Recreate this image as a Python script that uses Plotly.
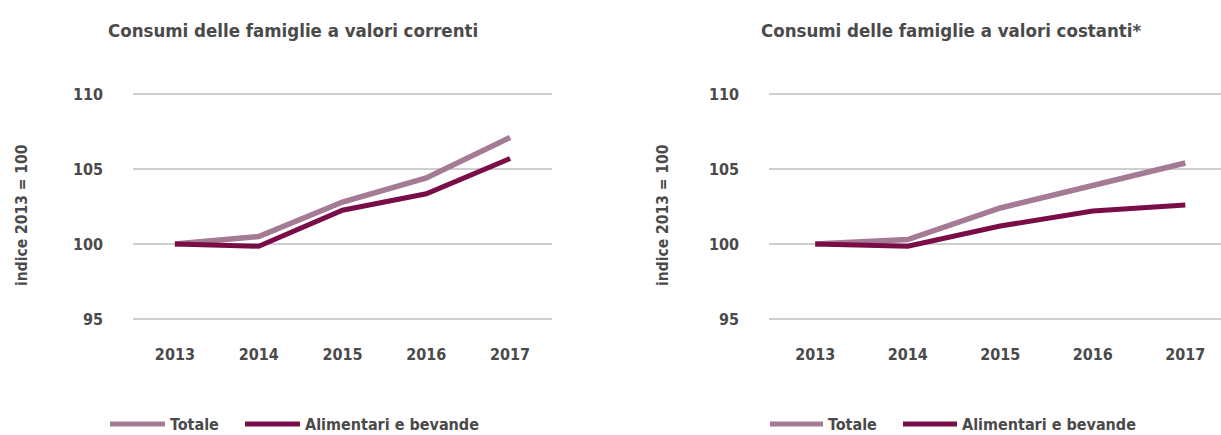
import plotly.graph_objects as go
from plotly.subplots import make_subplots

# Household consumption index, 2013 = 100
years = ["2013", "2014", "2015", "2016", "2017"]

correnti_totale = [100.0, 100.5, 102.8, 104.4, 107.1]
correnti_alimentari = [100.0, 99.85, 102.25, 103.35, 105.7]

costanti_totale = [100.0, 100.3, 102.4, 103.9, 105.4]
costanti_alimentari = [100.0, 99.85, 101.2, 102.2, 102.6]

titles = ["Consumi delle famiglie a valori correnti",
          "Consumi delle famiglie a valori costanti*"]
series_names = ["Totale", "Alimentari e bevande"]
y_title = "indice 2013 = 100"
y_ticks = [95, 100, 105, 110]

COL_TOT = "#a47a94"
COL_ALI = "#7a0c47"
TXT = "#4a4a4a"
GRID = "#cfcfcf"
FONT = "DejaVu Sans Condensed, DejaVu Sans, sans-serif"

W, H = 1221, 435

fig = make_subplots(rows=1, cols=2)

panels = [(correnti_totale, correnti_alimentari), (costanti_totale, costanti_alimentari)]
for i, (tot, ali) in enumerate(panels, start=1):
    fig.add_trace(go.Scatter(x=years, y=tot, mode="lines", name=series_names[0],
                             line=dict(color=COL_TOT, width=5.5), showlegend=False),
                  row=1, col=i)
    fig.add_trace(go.Scatter(x=years, y=ali, mode="lines", name=series_names[1],
                             line=dict(color=COL_ALI, width=5), showlegend=False),
                  row=1, col=i)

def px_x(p):
    return p / W

def px_y(p):
    return 1 - p / H

y_dom = [px_y(329.5), px_y(74.5)]
axis_font = dict(family=FONT, size=16, color=TXT, weight="bold")

fig.update_layout(
    width=W, height=H,
    margin=dict(l=0, r=0, t=0, b=0),
    paper_bgcolor="white", plot_bgcolor="white",
    font=dict(family=FONT, color=TXT),
    xaxis=dict(domain=[px_x(133), px_x(552)], range=[-0.5, 4.5],
               showgrid=False, zeroline=False, showline=False, ticks="",
               tickfont=axis_font, ticklabelstandoff=13),
    xaxis2=dict(domain=[px_x(769), 1.0], range=[-0.5, 4.386],
                showgrid=False, zeroline=False, showline=False, ticks="",
                tickfont=axis_font, ticklabelstandoff=13),
    yaxis=dict(domain=y_dom, range=[94.3, 111.3], tickvals=y_ticks,
               showgrid=True, gridcolor=GRID, gridwidth=1.5, zeroline=False,
               showline=False, ticks="", tickfont=axis_font, ticklabelstandoff=29),
    yaxis2=dict(domain=y_dom, range=[94.3, 111.3], tickvals=y_ticks,
                showgrid=True, gridcolor=GRID, gridwidth=1.5, zeroline=False,
                showline=False, ticks="", tickfont=axis_font, ticklabelstandoff=29),
)

# Panel titles
for x0, t in [(106, titles[0]), (759, titles[1])]:
    fig.add_annotation(x=px_x(x0), y=px_y(31), xref="paper", yref="paper",
                       xanchor="left", yanchor="middle", showarrow=False,
                       text=t,
                       font=dict(family=FONT, size=18.5, color=TXT, weight="bold"))

# Vertical axis titles
for xc in [22, 663]:
    fig.add_annotation(x=px_x(xc), y=px_y(215), xref="paper", yref="paper",
                       xanchor="center", yanchor="middle", showarrow=False,
                       textangle=-90, text=y_title,
                       font=dict(family=FONT, size=15.5, color=TXT, weight="bold"))

# Legends under each panel
legend_rows = [
    [(110, 165, COL_TOT, 168, series_names[0]), (245, 300, COL_ALI, 303, series_names[1])],
    [(770, 823, COL_TOT, 826, series_names[0]), (903, 957, COL_ALI, 960, series_names[1])],
]
ly = 424
for row in legend_rows:
    for xa, xb, col, xt, name in row:
        fig.add_shape(type="line", xref="paper", yref="paper",
                      x0=px_x(xa), x1=px_x(xb), y0=px_y(ly), y1=px_y(ly),
                      line=dict(color=col, width=5))
        fig.add_annotation(x=px_x(xt), y=px_y(ly), xref="paper", yref="paper",
                           xanchor="left", yanchor="middle", showarrow=False,
                           text=name,
                           font=dict(family=FONT, size=16, color=TXT, weight="bold"))

fig.write_html("out.html")
